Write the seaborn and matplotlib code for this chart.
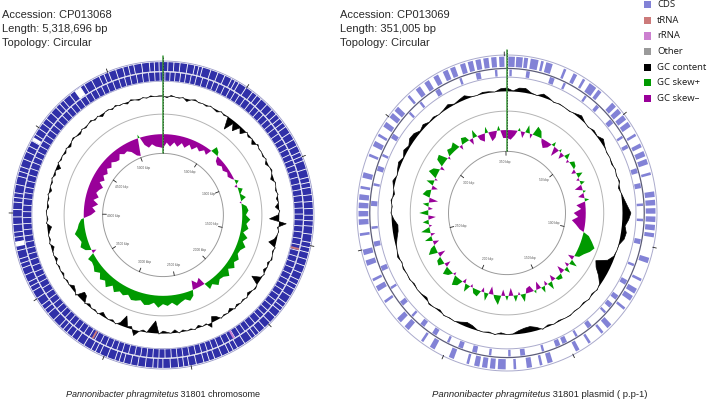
import numpy as np
import matplotlib
matplotlib.use("Agg")
import matplotlib.pyplot as plt
from matplotlib.patches import Rectangle
from matplotlib import font_manager as fm
import seaborn as sns

sns.set_theme(style="white")
plt.rcParams['font.family'] = ['Liberation Sans', 'DejaVu Sans']

# ---------------- data ----------------
chr_accession = "CP013068"
chr_length_bp = 5318696
pla_accession = "CP013069"
pla_length_bp = 351005

chr_label_kbp = [500, 1000, 1500, 2000, 2500, 3000, 3500, 4000, 4500, 5000]
pla_label_kbp = [50, 100, 150, 200, 250, 300, 350]

# chromosome CDS rings: positions (kbp) of white gaps between CDS runs
chr_fwd_gaps = [28, 62, 97, 140, 181, 205, 226, 275, 318, 360, 402, 425, 449, 497, 541, 572,
                603, 647, 688, 722, 752, 781, 809, 851, 893, 932, 971, 997, 1022, 1071, 1118,
                1147, 1175, 1216, 1254, 1293, 1331, 1362, 1392, 1437, 1483, 1512, 1540, 1579,
                1617, 1660, 1702, 1731, 1758, 1803, 1849, 1877, 1903, 1946, 1988, 2030, 2071,
                2098, 2124, 2172, 2219, 2247, 2274, 2318, 2361, 2393, 2425, 2469, 2512, 2541,
                2571, 2617, 2660, 2689, 2717, 2760, 2803, 2843, 2884, 2911, 2936, 2982, 3027,
                3055, 3082, 3129, 3175, 3212, 3248, 3275, 3302, 3350, 3397, 3426, 3455, 3502,
                3548, 3577, 3604, 3647, 3689, 3716, 3742, 3789, 3836, 3865, 3893, 3936, 3978,
                4020, 4061, 4087, 4113, 4160, 4207, 4235, 4262, 4307, 4351, 4385, 4418, 4458,
                4497, 4532, 4566, 4607, 4648, 4677, 4705, 4752, 4798, 4825, 4851, 4899, 4947,
                4976, 5004, 5047, 5089, 5121, 5152, 5197, 5241, 5269, 5296]
chr_rev_gaps = [12, 43, 74, 107, 139, 172, 205, 243, 281, 314, 347, 384, 421, 455, 488, 527,
                566, 602, 637, 674, 711, 745, 779, 818, 857, 891, 924, 960, 995, 1029, 1063,
                1102, 1142, 1178, 1213, 1251, 1288, 1324, 1359, 1395, 1431, 1470, 1508, 1544,
                1579, 1615, 1651, 1689, 1727, 1762, 1796, 1834, 1872, 1910, 1947, 1980, 2013,
                2055, 2096, 2132, 2167, 2203, 2239, 2279, 2318, 2353, 2387, 2423, 2459, 2499,
                2538, 2574, 2609, 2647, 2684, 2721, 2758, 2795, 2831, 2870, 2909, 2944, 2978,
                3015, 3051, 3090, 3128, 3166, 3203, 3240, 3277, 3313, 3349, 3385, 3421, 3459,
                3496, 3535, 3573, 3607, 3641, 3680, 3718, 3754, 3789, 3827, 3864, 3901, 3937,
                3973, 4009, 4048, 4087, 4122, 4156, 4194, 4231, 4270, 4309, 4344, 4378, 4415,
                4452, 4490, 4527, 4564, 4601, 4640, 4678, 4714, 4749, 4786, 4823, 4861, 4898,
                4934, 4969, 5008, 5047, 5083, 5118, 5156, 5193, 5231, 5268, 5300]
chr_wide_gap_start = [3812, 4785, 4420]
chr_wide_gap_end = [3840, 4825, 4440]
chr_trna_kbp = [1534, 3105]
chr_rrna_kbp = [2210]

# chromosome GC content (deviation, 180 windows clockwise from origin)
chr_gc = [0.05, -0.1, 0.1, 0.0, -0.05, 0.05, -0.2, 0.0, 0.1, -0.05,
          0.0, -0.1, 0.05, -0.05, -0.15, 0.05, -0.1, 0.0, -1.0, -0.2,
          -0.7, -0.1, -0.45, 0.05, -0.15, 0.0, -0.3, 0.1, -0.05, 0.0,
          -0.1, 0.05, -0.2, 0.0, 0.1, -0.05, -0.25, 0.05, 0.0, -0.1,
          0.05, -0.15, 0.0, -0.3, 0.05, -0.1, -0.8, 0.6, -0.1, 0.05,
          -0.05, -0.2, -0.6, 0.05, -0.1, 0.0, 0.1, -0.15, 0.0, -0.2,
          0.05, -0.1, -0.75, 0.0, 0.1, -0.05, -0.2, 0.05, -0.1, 0.0,
          -0.15, 0.05, -0.25, 0.0, -0.1, 0.05, -0.3, -0.45, 0.35, -0.1,
          0.0, -0.2, 0.05, -0.1, 0.0, -0.15, 0.05, -0.25, 0.0, -0.1,
          -0.2, 0.05, -1.0, -0.55, 0.0, -0.15, 0.05, 0.45, -0.2, -0.1,
          -0.9, -0.2, 0.05, -0.15, 0.0, -0.1, -0.3, 0.05, -0.1, 0.0,
          -0.2, 0.05, -0.5, -0.6, 0.1, -0.15, -0.3, 0.0, -0.1, 0.05,
          -0.15, 0.0, -0.1, 0.05, -0.2, 0.0, -0.05, -0.25, 0.05, -0.1,
          0.0, -0.15, -0.35, 0.05, -0.1, 0.0, 0.05, -0.15, 0.0, -0.1,
          0.05, -0.2, 0.0, -0.1, 0.05, -0.15, 0.0, -0.35, 0.05, -0.1,
          0.0, -0.15, 0.05, -0.2, 0.0, 0.1, -0.05, -0.15, 0.05, -0.1,
          0.0, 0.1, -0.1, 0.05, -0.2, 0.0, 0.05, -0.1, 0.1, -0.05,
          0.0, -0.15, 0.1, 0.0, -0.1, 0.05, -0.05, 0.1, 0.0, 0.05]

# chromosome GC skew (positive = skew+, 120 windows)
chr_skew = [-0.75, -0.45, -0.65, -0.4, -0.6, -0.35, -0.55, -0.3, -0.5, -0.25,
            -0.4, -0.2, -0.35, 0.35, 0.2, -0.25, -0.35, -0.2, -0.3, -0.15,
            -0.25, -0.1, 0.2, -0.15, 0.25, 0.05, 0.3, -0.1, 0.25, 0.35,
            0.2, 0.45, 0.25, 0.4, 0.15, 0.45, 0.25, 0.5, 0.3, 0.25,
            0.45, 0.3, 0.5, 0.25, 0.55, 0.35, 0.3, 0.5, 0.25, 0.4,
            -0.45, -0.25, -0.5, 0.3, 0.5, 0.35, 0.45, 0.6, 0.4, 0.55,
            0.45, 0.65, 0.4, 0.55, 0.6, 0.4, 0.5, 0.55, 0.35, 0.5,
            0.4, 0.6, 0.35, 0.65, 0.4, 0.55, 0.3, 0.5, 0.35, 0.3,
            0.4, -0.25, 0.3, 0.5, 0.35, 0.45, 0.6, 0.4, 0.3, 0.15,
            -0.4, -0.65, -0.45, -0.75, -0.45, -0.7, -0.5, -0.6, -0.75, -0.45,
            -0.65, -0.45, -0.6, -0.4, -0.55, -0.35, -0.5, -0.55, -0.3, -0.45,
            -0.4, -0.55, -0.85, -0.95, 0.2, -0.45, -0.65, -0.5, -0.65, -0.7]

# plasmid CDS features (kbp)
pla_fwd_start = [0.5, 3.5, 6.5, 9, 13, 15, 22, 26, 30, 33, 37, 44, 47, 50, 53, 58, 62, 65, 68, 73,
                 80, 83, 86, 89, 92, 95, 104, 112, 116, 119, 124, 132, 136, 142, 147, 158, 162,
                 166, 172, 176, 180, 183, 186, 190, 196, 204, 209, 216, 220, 229, 234, 238, 244,
                 248, 255, 259, 262, 265, 268, 272, 276, 284, 288, 292, 296, 300, 303, 310, 314,
                 318, 322, 326, 329, 333, 336, 339, 342, 345, 348]
pla_fwd_end = [3, 6, 8, 12, 14, 17.5, 23, 27.5, 31, 36, 38.5, 46, 49, 52, 55, 59, 63.5, 67, 70, 74,
               82, 85, 88, 91, 94, 96.5, 106, 113, 118, 121, 125, 134, 137, 143, 148.5, 160, 163,
               168, 173, 179, 182, 185, 188, 191, 198, 206, 210, 218, 222, 230, 236, 239, 246,
               250, 256, 261, 264, 267, 270, 273, 278, 285, 290, 293, 298, 302, 305, 311, 316,
               320, 324, 328, 331, 335, 338, 341, 344, 347, 350]
pla_rev_start = [1, 8, 18, 24, 34, 40, 48, 56, 60, 70, 76, 84, 90, 98, 108, 115, 122, 126, 130,
                 138, 145, 150, 153, 160, 168, 174, 182, 188, 194, 200, 206, 212, 218, 224, 232,
                 240, 250, 257, 266, 274, 280, 286, 294, 306, 312, 320, 331, 338, 346]
pla_rev_end = [2, 9.5, 20, 25, 35, 41.5, 50, 57, 61.5, 72, 78, 85, 91, 100, 109, 117, 124, 128, 131,
               140, 146, 152, 155, 161, 170, 175, 183, 190, 196, 201, 208, 214, 219, 226, 233,
               242, 252, 258, 268, 275, 282, 287, 296, 307, 313, 322, 332, 340, 347]

# plasmid GC content (120 windows)
pla_gc = [0.3, 0.05, 0.35, 0.4, 0.1, 0.0, 0.3, 0.15, -0.05, 0.05,
          0.0, -0.05, 0.1, 0.3, 0.05, -0.05, 0.15, 0.05, 0.35, 0.1,
          -0.05, 0.0, -0.1, 0.05, -0.05, 0.1, -0.15, 0.05, 0.25, 0.5,
          0.8, 0.6, 0.3, 0.5, 0.4, 0.05, 0.0, -0.1, -0.5, -1.5,
          -1.2, -0.6, -0.1, 0.05, -0.1, 0.05, -0.1, 0.0, -0.05, 0.05,
          0.0, -0.1, 0.0, -0.15, 0.05, -0.3, -0.5, -0.45, -0.3, -0.05,
          0.0, -0.15, 0.05, -0.1, 0.0, -0.05, -0.3, -0.4, -0.2, 0.0,
          -0.05, 0.05, -0.15, 0.0, 0.1, -0.2, -0.05, 0.0, -0.1, 0.05,
          0.0, 0.1, -0.05, 0.15, 0.0, -0.1, -0.3, -0.5, -0.55, -0.2,
          0.05, -0.05, 0.1, -0.15, 0.05, 0.25, 0.0, 0.15, 0.3, 0.05,
          0.35, 0.15, 0.45, 0.4, 0.1, 0.3, 0.05, 0.15, 0.0, 0.1,
          0.3, 0.05, 0.2, 0.35, 0.05, 0.0, 0.15, 0.1, 0.0, 0.25]

# plasmid GC skew (120 windows)
pla_skew = [-0.5, -0.6, -0.3, 0.2, -0.4, 0.5, -0.3, 0.6, 0.4, -0.2,
            -0.5, -0.3, 0.3, -0.6, 0.2, -0.4, 0.4, -0.2, 0.3, 0.2,
            -0.3, 0.4, -0.2, 0.3, -0.5, 0.2, -0.4, 0.3, -0.6, -0.3,
            -0.8, -0.5, -0.9, -0.6, -0.3, 0.4, 0.7, 1.0, 0.8, 0.5,
            0.3, -0.4, 0.5, -0.3, 0.4, -0.5, 0.3, 0.2, -0.4, 0.5,
            -0.3, 0.4, -0.5, 0.2, -0.4, -0.3, 0.5, -0.2, 0.4, -0.5,
            0.3, -0.4, 0.6, 0.2, -0.5, 0.5, -0.3, 0.4, 0.3, -0.2,
            0.5, -0.3, 0.4, 0.6, -0.2, 0.3, 0.5, -0.4, 0.4, 0.3,
            -0.5, 0.6, 0.3, -0.4, 0.5, -0.3, 0.6, -0.2, 0.4, -0.5,
            0.6, -0.3, 0.4, -0.6, 0.5, 0.3, -0.4, 0.5, -0.2, 0.6,
            0.4, -0.3, 0.5, 0.6, -0.2, 0.4, 0.3, 0.5, -0.3, 0.4,
            0.3, -0.4, 0.5, -0.3, -0.5, 0.4, -0.6, -0.4, 0.3, -0.5]

legend_labels = ["CDS", "tRNA", "rRNA", "Other", "GC content", "GC skew+", "GC skew\u2013"]
legend_colors = ["#8282d6", "#cc7a7a", "#cc80d0", "#9a9a9a", "#000000", "#009a00", "#990099"]

caption_species = "Pannonibacter phragmitetus"
chr_caption_rest = " 31801 chromosome"
pla_caption_rest = " 31801 plasmid ( p.p-1)"

# ---------------- drawing ----------------
W, H = 709, 409
fig = plt.figure(figsize=(W / 100, H / 100), dpi=100)
RMAX = 1.06
TWO_PI = 2 * np.pi


def circ_ax(cx, cy, rx, ry):
    ax = fig.add_axes([(cx - rx * RMAX) / W, (H - cy - ry * RMAX) / H,
                       2 * rx * RMAX / W, 2 * ry * RMAX / H], projection='polar')
    ax.set_theta_zero_location('N')
    ax.set_theta_direction(-1)
    ax.set_ylim(0, RMAX)
    ax.set_aspect('auto')
    ax.set_axis_off()
    return ax


def circle(ax, r, color, lw, z=2):
    t = np.linspace(0, TWO_PI, 721)
    ax.plot(t, np.full_like(t, r), color=color, lw=lw, zorder=z, solid_capstyle='butt')


def feats(ax, starts, ends, length_kbp, r0, r1, color, z=3):
    s = np.asarray(starts, float)
    e = np.asarray(ends, float)
    t0 = TWO_PI * s / length_kbp
    t1 = TWO_PI * e / length_kbp
    ax.bar((t0 + t1) / 2, r1 - r0, width=t1 - t0, bottom=r0, color=color,
           linewidth=0, zorder=z)


def gap_blocks(gaps, gap_w, length_kbp):
    g = np.sort(np.asarray(gaps, float))
    starts = g + gap_w / 2
    ends = np.roll(g, -1) - gap_w / 2
    ends[-1] += length_kbp
    return starts, ends


def gc_track(ax, vals, base, scale, pos_color, neg_color, line_lw=0.0):
    v = np.append(np.asarray(vals, float), vals[0])
    t = np.linspace(0, TWO_PI, len(v))
    r = base + v * scale
    ax.fill_between(t, base, r, where=v >= 0, interpolate=True, color=pos_color, lw=0, zorder=3)
    ax.fill_between(t, base, r, where=v <= 0, interpolate=True, color=neg_color, lw=0, zorder=3)
    if line_lw > 0:
        ax.plot(t, r, color=pos_color, lw=line_lw, zorder=3)


def scale_labels(ax, labels_kbp, length_kbp, r_in, fs):
    for k in labels_kbp:
        th = TWO_PI * k / length_kbp
        ax.plot([th, th], [r_in - 0.025, r_in], color='#222222', lw=0.6, zorder=4)
        ax.text(th - 0.03, r_in - 0.07, f"{k} kbp", fontsize=fs, color='#555555',
                ha='center', va='center', zorder=4)


def outer_ticks(ax, step_kbp, length_kbp):
    ks = np.arange(step_kbp, length_kbp, step_kbp)
    for k in ks:
        th = TWO_PI * k / length_kbp
        ax.plot([th, th], [0.995, 1.02], color='#222222', lw=0.6, zorder=4)


def start_line(ax, r0, r1):
    ax.plot([0, 0], [r0, r1], color='#3c9a3c', lw=1.1, zorder=6)
    ax.plot([0, 0], [r0, r1], color='#1b3b1b', lw=0.5, dashes=(2, 2), zorder=7)


# ---- chromosome ----
chr_len = chr_length_bp / 1000
axc = circ_ax(163, 215, 151, 154)
circle(axc, 1.0, '#9a9ac8', 0.6)
cblue = '#3030a8'
s, e = gap_blocks(chr_fwd_gaps, 5, chr_len)
feats(axc, s, e, chr_len, 0.935, 0.993, cblue)
s, e = gap_blocks(chr_rev_gaps, 5, chr_len)
feats(axc, s, e, chr_len, 0.872, 0.927, cblue)
feats(axc, chr_wide_gap_start, chr_wide_gap_end, chr_len, 0.935, 0.993, 'white', z=4)
feats(axc, [k - 6 for k in chr_trna_kbp], [k + 6 for k in chr_trna_kbp], chr_len,
      0.872, 0.927, legend_colors[1], z=5)
feats(axc, [k - 6 for k in chr_rrna_kbp], [k + 6 for k in chr_rrna_kbp], chr_len,
      0.872, 0.927, legend_colors[2], z=5)
circle(axc, 0.931, '#d0d0e8', 0.5, z=4)
circle(axc, 0.868, '#9a9ac8', 0.5)
gc_track(axc, chr_gc, 0.77, 0.08, 'black', 'black', line_lw=0.45)
circle(axc, 0.655, '#b4b4b4', 0.7)
gc_track(axc, chr_skew, 0.525, 0.12, legend_colors[5], legend_colors[6])
circle(axc, 0.40, '#9a9a9a', 0.7)
scale_labels(axc, chr_label_kbp, chr_len, 0.40, 2.3)
outer_ticks(axc, 500, chr_len)
start_line(axc, 0.40, 1.03)

# ---- plasmid ----
pla_len = pla_length_bp / 1000
axp = circ_ax(507, 213, 150, 158)
pblue = legend_colors[0]
circle(axp, 1.0, '#aaaacc', 0.7)
feats(axp, pla_fwd_start, pla_fwd_end, pla_len, 0.925, 0.99, pblue)
circle(axp, 0.915, '#5c5c78', 0.9)
feats(axp, pla_rev_start, pla_rev_end, pla_len, 0.866, 0.908, pblue)
circle(axp, 0.86, '#aaaacc', 0.7)
gc_track(axp, pla_gc, 0.77, 0.07, 'black', 'black', line_lw=0.5)
circle(axp, 0.645, '#b4b4b4', 0.7)
gc_track(axp, pla_skew, 0.525, 0.1, legend_colors[5], legend_colors[6])
circle(axp, 0.39, '#9a9a9a', 0.7)
scale_labels(axp, pla_label_kbp, pla_len, 0.39, 2.3)
outer_ticks(axp, 50, pla_len)
start_line(axp, 0.39, 1.03)

# ---- header text ----
hdr_font = ['Liberation Sans', 'DejaVu Sans']
for x0, acc, ln in [(2, chr_accession, chr_length_bp), (340, pla_accession, pla_length_bp)]:
    lines = [f"Accession: {acc}", f"Length: {ln:,} bp", "Topology: Circular"]
    for i, t in enumerate(lines):
        fig.text(x0 / W, 1 - (15 + 14 * i) / H, t, fontsize=8, color='#2a2a2a',
                 ha='left', va='center', family=hdr_font)

# ---- legend ----
leg_font = ['Open Sans', 'DejaVu Sans']
for i, (lab, col) in enumerate(zip(legend_labels, legend_colors)):
    yc = 4.8 + 15.6 * i
    fig.add_artist(Rectangle((643.5 / W, 1 - (yc + 3.6) / H), 7.2 / W, 7.2 / H,
                             transform=fig.transFigure, facecolor=col, edgecolor='none'))
    fig.text(657 / W, 1 - yc / H, lab, fontsize=6.8, color='#1a1a1a', ha='left',
             va='center', family=leg_font)

# ---- captions ----
names = {f.name for f in fm.fontManager.ttflist}
narrow = 'Liberation Sans Narrow' in names
cap_family = 'Liberation Sans Narrow' if narrow else 'Liberation Sans'
fig.canvas.draw()
renderer = fig.canvas.get_renderer()
for cx, rest, fs in [(163, chr_caption_rest, 7.6), (540, pla_caption_rest, 8.0)]:
    fs_use = fs if narrow else fs * 0.85
    t1 = fig.text(0, 0, caption_species, fontsize=fs_use, style='italic',
                  family=cap_family, color='#222222')
    t2 = fig.text(0, 0, rest, fontsize=fs_use, family=cap_family, color='#222222')
    w1 = t1.get_window_extent(renderer).width
    w2 = t2.get_window_extent(renderer).width
    x0 = cx - (w1 + w2) / 2
    yb = 1 - 397 / H
    t1.set_position((x0 / W, yb))
    t2.set_position(((x0 + w1) / W, yb))
    t1.set_va('baseline')
    t2.set_va('baseline')

fig.savefig("out.png", dpi=100, facecolor='white')
